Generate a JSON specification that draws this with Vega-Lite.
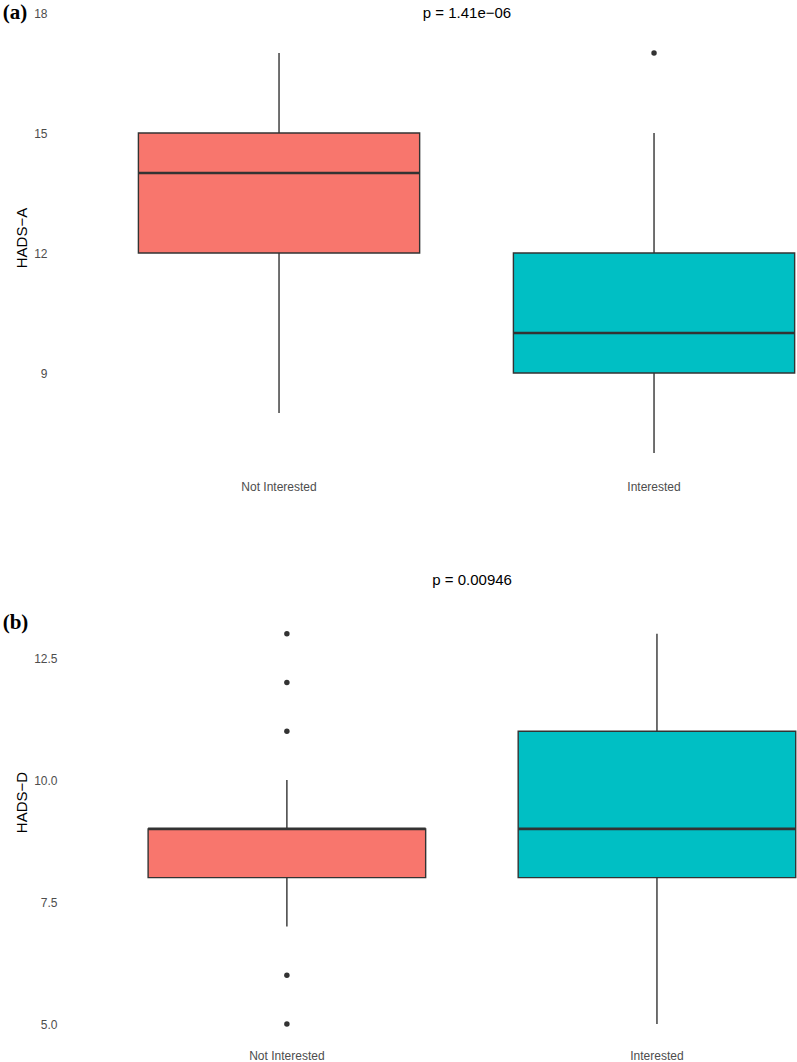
{
  "$schema": "https://vega.github.io/schema/vega-lite/v6.json",
  "background": "white",
  "padding": {"left": 2, "top": 0, "right": 0, "bottom": 0},
  "autosize": {"type": "pad"},
  "config": {
    "view": {"stroke": null},
    "font": "Liberation Sans",
    "axis": {
      "domain": false,
      "ticks": false,
      "tickSize": 0,
      "grid": false,
      "labelFont": "Liberation Sans",
      "labelFontSize": 12,
      "labelColor": "#4D4D4D",
      "titleFont": "Liberation Sans",
      "titleFontSize": 15,
      "titleFontWeight": "normal",
      "titleColor": "#000000"
    },
    "title": {
      "font": "Liberation Serif",
      "fontSize": 21,
      "fontWeight": "bold",
      "color": "#000000",
      "anchor": "start",
      "frame": "bounds",
      "baseline": "middle"
    }
  },
  "datasets": {
    "boxesA": [
      {"group": "Not Interested", "lower": 8, "q1": 12, "median": 14, "q3": 15, "upper": 17},
      {"group": "Interested", "lower": 7, "q1": 9, "median": 10, "q3": 12, "upper": 15}
    ],
    "outliersA": [
      {"group": "Interested", "value": 17}
    ],
    "boxesB": [
      {"group": "Not Interested", "lower": 7, "q1": 8, "median": 9, "q3": 9, "upper": 10},
      {"group": "Interested", "lower": 5, "q1": 8, "median": 9, "q3": 11, "upper": 13}
    ],
    "outliersB": [
      {"group": "Not Interested", "value": 13},
      {"group": "Not Interested", "value": 12},
      {"group": "Not Interested", "value": 11},
      {"group": "Not Interested", "value": 6},
      {"group": "Not Interested", "value": 5}
    ]
  },
  "spacing": 66,
  "vconcat": [
    {
      "width": 732,
      "height": 475,
      "title": {"text": "(a)", "dx": -12, "offset": -22.5},
      "layer": [
        {
          "data": {"name": "boxesA"},
          "mark": {"type": "rule", "stroke": "#333333", "strokeWidth": 1.4},
          "encoding": {
            "x": {"field": "group", "type": "nominal", "sort": null,
              "scale": {"type": "band", "domain": ["Not Interested", "Interested"], "paddingInner": 0.25, "paddingOuter": 0.101, "align": 0.969},
              "axis": {"title": null, "labelAngle": 0, "labelPadding": 6}},
            "y": {"field": "lower", "type": "quantitative",
              "scale": {"domain": [6.45, 18.325], "nice": false, "zero": false},
              "axis": {"title": "HADS−A", "values": [9, 12, 15, 18], "offset": 11, "labelPadding": 7, "titlePadding": 4}},
            "y2": {"field": "upper"}
          }
        },
        {
          "data": {"name": "boxesA"},
          "mark": {"type": "bar", "stroke": "#333333", "strokeWidth": 1.4},
          "encoding": {
            "x": {"field": "group", "type": "nominal"},
            "y": {"field": "q1", "type": "quantitative"},
            "y2": {"field": "q3"},
            "color": {"field": "group", "type": "nominal",
              "scale": {"domain": ["Not Interested", "Interested"], "range": ["#F8766D", "#00BFC4"]},
              "legend": null}
          }
        },
        {
          "data": {"name": "boxesA"},
          "mark": {"type": "bar", "stroke": "#333333", "strokeWidth": 2.6, "fillOpacity": 0},
          "encoding": {
            "x": {"field": "group", "type": "nominal"},
            "y": {"field": "median", "type": "quantitative"},
            "y2": {"field": "median"}
          }
        },
        {
          "data": {"name": "outliersA"},
          "mark": {"type": "point", "filled": true, "color": "#333333", "opacity": 1, "size": 30},
          "encoding": {
            "x": {"field": "group", "type": "nominal"},
            "y": {"field": "value", "type": "quantitative"}
          }
        },
        {
          "data": {"values": [{"label": "p = 1.41e−06"}]},
          "mark": {"type": "text", "font": "Liberation Sans", "fontSize": 15, "color": "#000000", "align": "center", "baseline": "middle"},
          "encoding": {
            "x": {"datum": "Interested", "bandPosition": -0.165},
            "y": {"datum": 18},
            "text": {"field": "label"}
          }
        }
      ]
    },
    {
      "width": 732,
      "height": 488,
      "title": {"text": "(b)", "dx": -12, "offset": -74.5},
      "layer": [
        {
          "data": {"name": "boxesB"},
          "mark": {"type": "rule", "stroke": "#333333", "strokeWidth": 1.4},
          "encoding": {
            "x": {"field": "group", "type": "nominal", "sort": null,
              "scale": {"type": "band", "domain": ["Not Interested", "Interested"], "paddingInner": 0.25, "paddingOuter": 0.114, "align": 0.985},
              "axis": {"title": null, "labelAngle": 0, "labelPadding": 4}},
            "y": {"field": "lower", "type": "quantitative",
              "scale": {"domain": [4.55, 14.55], "nice": false, "zero": false},
              "axis": {"title": "HADS−D", "values": [5, 7.5, 10, 12.5], "format": ".1f", "labelPadding": 8, "titlePadding": 4}},
            "y2": {"field": "upper"}
          }
        },
        {
          "data": {"name": "boxesB"},
          "mark": {"type": "bar", "stroke": "#333333", "strokeWidth": 1.4},
          "encoding": {
            "x": {"field": "group", "type": "nominal"},
            "y": {"field": "q1", "type": "quantitative"},
            "y2": {"field": "q3"},
            "color": {"field": "group", "type": "nominal",
              "scale": {"domain": ["Not Interested", "Interested"], "range": ["#F8766D", "#00BFC4"]},
              "legend": null}
          }
        },
        {
          "data": {"name": "boxesB"},
          "mark": {"type": "bar", "stroke": "#333333", "strokeWidth": 2.6, "fillOpacity": 0},
          "encoding": {
            "x": {"field": "group", "type": "nominal"},
            "y": {"field": "median", "type": "quantitative"},
            "y2": {"field": "median"}
          }
        },
        {
          "data": {"name": "outliersB"},
          "mark": {"type": "point", "filled": true, "color": "#333333", "opacity": 1, "size": 30},
          "encoding": {
            "x": {"field": "group", "type": "nominal"},
            "y": {"field": "value", "type": "quantitative"}
          }
        },
        {
          "data": {"values": [{"label": "p = 0.00946"}]},
          "mark": {"type": "text", "font": "Liberation Sans", "fontSize": 15, "color": "#000000", "align": "center", "baseline": "middle"},
          "encoding": {
            "x": {"datum": "Interested", "bandPosition": -0.166},
            "y": {"datum": 14.1},
            "text": {"field": "label"}
          }
        }
      ]
    }
  ]
}
